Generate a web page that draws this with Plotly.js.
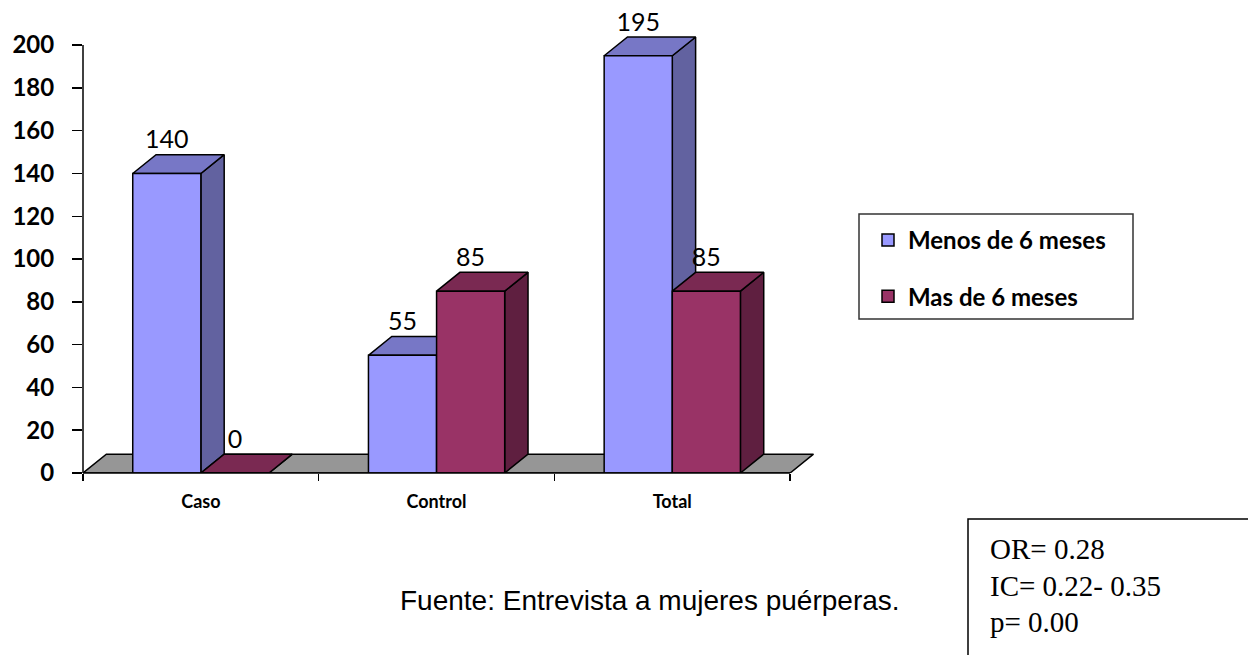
<!DOCTYPE html>
<html>
<head>
<meta charset="utf-8">
<script src="https://cdn.plot.ly/plotly-3.0.1.min.js"></script>
<style>
  html, body { margin: 0; padding: 0; background: #ffffff; }
  #chart { width: 1248px; height: 655px; }
</style>
</head>
<body>
<div id="chart"></div>
<script>
// ---- data ----
const categories = ['Caso', 'Control', 'Total'];
const menosDe6 = [140, 55, 195];
const masDe6 = [0, 85, 85];
const seriesNames = ['Menos de 6 meses', 'Mas de 6 meses'];
const yTickValues = [0, 20, 40, 60, 80, 100, 120, 140, 160, 180, 200];
const sourceNote = 'Fuente: Entrevista a mujeres puérperas.';
const statsLines = ['OR= 0.28', 'IC= 0.22- 0.35', 'p= 0.00'];

// ---- styles ----
const seriesValues = [menosDe6, masDe6];
const faceColors = [
  { front: '#9999FF', top: '#7777C6', side: '#6262A0' },
  { front: '#993366', top: '#7A2952', side: '#5F1F40' }
];
const floorColor = '#969696';
const barW = 0.289;      // bar width in category units
const depthX = 0.099;    // 3D depth (x, category units)
const depthY = 8.8;      // 3D depth (y, value units)
const edge = { color: '#000000', width: 1.5 };

const L = 83, T = 13, R = 406, B = 182;
const W = 1248, H = 655;
const plotW = W - L - R, plotH = H - T - B;
const px2x = p => (p - L) / plotW;
const px2y = p => (H - B - p) / plotH;

const traces = [];
function poly(xs, ys, color) {
  traces.push({
    type: 'scatter', mode: 'lines',
    x: xs.concat([xs[0]]), y: ys.concat([ys[0]]),
    fill: 'toself', fillcolor: color,
    line: { color: edge.color, width: edge.width },
    hoverinfo: 'skip', showlegend: false
  });
}

// floor
const n = categories.length;
poly([-0.5, n - 0.5, n - 0.5 + depthX, -0.5 + depthX],
     [0, 0, depthY, depthY], floorColor);

// bars (3D faces)
const labelX = [], labelY = [], labelT = [];
seriesValues.forEach((vals, s) => {
  vals.forEach((v, i) => {
    const x0 = s === 0 ? i - barW : i;
    const x1 = x0 + barW;
    const c = faceColors[s];
    poly([x1, x1 + depthX, x1 + depthX, x1], [0, depthY, v + depthY, v], c.side);
    poly([x0, x1, x1 + depthX, x0 + depthX], [v, v, v + depthY, v + depthY], c.top);
    poly([x0, x1, x1, x0], [0, 0, v, v], c.front);
    labelX.push(x0 + barW / 2);
    labelY.push(v + depthY);
    labelT.push(String(v));
  });
});

// value labels
traces.push({
  type: 'scatter', mode: 'text',
  x: labelX, y: labelY, text: labelT,
  textposition: 'top center',
  textfont: { family: 'Lato', size: 25, color: '#000000' },
  cliponaxis: false, hoverinfo: 'skip', showlegend: false
});

// legend carriers
seriesNames.forEach((name, s) => {
  traces.push({
    type: 'bar', name: name,
    x: categories.map((_, i) => i), y: categories.map(() => null),
    marker: { color: faceColors[s].front, line: { color: '#000000', width: 1.5 } },
    legendgroup: 'g' + s, showlegend: true, hoverinfo: 'skip'
  });
});

const annotations = [
  {
    xref: 'paper', yref: 'paper', x: px2x(398), y: px2y(600),
    xanchor: 'left', yanchor: 'middle', showarrow: false,
    text: sourceNote,
    font: { family: 'Liberation Sans', size: 28, color: '#000000' }
  }
];
statsLines.forEach((t, k) => {
  annotations.push({
    xref: 'paper', yref: 'paper', x: px2x(988), y: px2y(549 + k * 36.5),
    xanchor: 'left', yanchor: 'middle', showarrow: false,
    text: t,
    font: { family: 'Liberation Serif', size: 29, color: '#000000' }
  });
});

const layout = {
  width: W, height: H,
  margin: { l: L, r: R, t: T, b: B, pad: 0 },
  paper_bgcolor: '#ffffff', plot_bgcolor: 'rgba(0,0,0,0)',
  showlegend: true,
  legend: {
    x: px2x(868), y: px2y(218), xanchor: 'left', yanchor: 'top',
    bgcolor: 'rgba(0,0,0,0)', borderwidth: 0,
    traceorder: 'grouped', tracegroupgap: 22,
    font: { family: 'Lato', size: 24, color: '#000000', weight: 'bold' }
  },
  xaxis: {
    range: [-0.5, 2.72], fixedrange: true,
    tickmode: 'array', tickvals: categories.map((_, i) => i), ticktext: categories,
    ticks: '', showline: false, showgrid: false, zeroline: false,
    ticklabelstandoff: 16,
    tickfont: { family: 'Lato', size: 18, color: '#000000', weight: 'bold' },
    minor: {
      tickmode: 'array',
      tickvals: categories.map((_, i) => i - 0.5).concat([n - 0.5]),
      ticks: 'outside', ticklen: 7, tickwidth: 1.5, tickcolor: '#000000', showgrid: false
    }
  },
  yaxis: {
    range: [0, 215], fixedrange: true,
    tickmode: 'array', tickvals: yTickValues,
    ticks: 'outside', ticklen: 10, tickwidth: 1.5, tickcolor: '#000000',
    showline: false, showgrid: false, zeroline: false,
    ticklabelstandoff: 13,
    tickfont: { family: 'Lato', size: 24, color: '#000000', weight: 'bold' }
  },
  shapes: [
    { type: 'line', xref: 'paper', yref: 'y', x0: 0, x1: 0, y0: 0, y1: yTickValues[yTickValues.length - 1],
      line: { color: '#000000', width: 1.5 } },
    { type: 'line', xref: 'x', yref: 'paper', x0: -0.5, x1: n - 0.5, y0: 0, y1: 0,
      line: { color: '#000000', width: 1.5 } },
    { type: 'rect', xref: 'paper', yref: 'paper',
      x0: px2x(859), x1: px2x(1133), y0: px2y(319), y1: px2y(214),
      line: { color: '#333333', width: 1.5 }, fillcolor: 'rgba(0,0,0,0)' },
    { type: 'rect', xref: 'paper', yref: 'paper',
      x0: px2x(968), x1: px2x(1252), y0: px2y(660), y1: px2y(519),
      line: { color: '#000000', width: 1.5 }, fillcolor: 'rgba(0,0,0,0)' }
  ],
  annotations: annotations
};

Plotly.newPlot('chart', traces, layout, { displayModeBar: false, staticPlot: true });
</script>
</body>
</html>
